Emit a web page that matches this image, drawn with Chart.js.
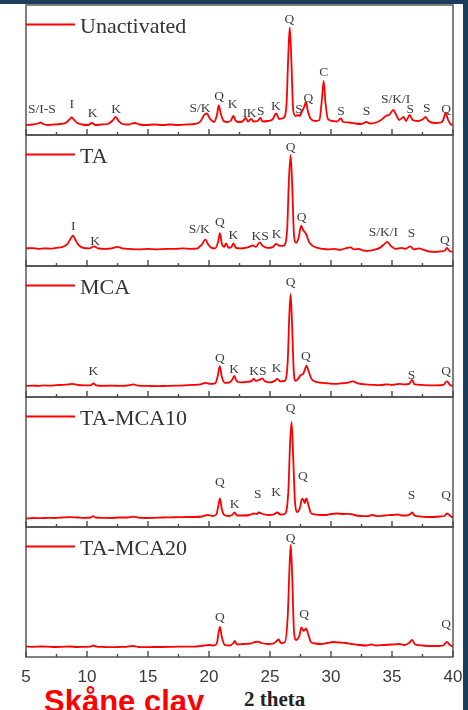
<!DOCTYPE html>
<html>
<head>
<meta charset="utf-8">
<script src="https://cdn.jsdelivr.net/npm/chart.js@4.4.0/dist/chart.umd.min.js"></script>
<style>
  html, body { margin: 0; padding: 0; background: #fff; }
  body { width: 468px; height: 710px; position: relative; overflow: hidden; }
  .band-top { position: absolute; left: 0; top: 0; width: 468px; height: 4px; background: #1d3d5c; }
  .band-right { position: absolute; left: 463px; top: 0; width: 5px; height: 710px; background: #1d3d5c; }
  canvas { position: absolute; left: 0; }
  #xtitle { position: absolute; left: 244px; top: 689px; font: bold 21px "Liberation Serif", serif; line-height: 1; color: #222; white-space: nowrap; }
  #clay { position: absolute; left: 44px; top: 686px; font: bold 31px "Liberation Sans", Arial, sans-serif; line-height: 1; color: #f00; white-space: nowrap; }
</style>
</head>
<body>
<div class="band-top"></div>
<div class="band-right"></div>
<div id="xtitle">2 theta</div>
<div id="clay">Skåne clay</div>
<script>
// 2 theta (deg) vs intensity (a.u.)
const unactivated = [[5,10],[5.5,10.5],[6.0,11.5],[6.2,12.5],[6.4,11],[6.8,10],[7.3,10.5],[7.8,11],[8.3,12.5],[8.6,16],[8.75,17.5],[8.95,15],[9.2,12],[9.6,10.5],[10.1,10],[10.4,12],[10.7,10],[11.2,10.5],[11.7,11],[12.1,14.5],[12.35,18],[12.6,14],[12.9,11],[13.4,10.5],[13.9,12],[14.3,10.5],[14.8,10],[15.5,10.5],[16.2,10],[16.8,10.5],[17.5,10],[18.2,10.5],[18.8,11],[19.3,13.5],[19.6,20],[19.8,21.5],[20.1,16],[20.4,13],[20.65,20],[20.8,29.5],[20.95,22],[21.2,14],[21.5,13],[21.8,14.5],[22.0,19],[22.2,14],[22.5,13],[22.8,14],[23.0,17],[23.2,13.5],[23.45,16],[23.65,13.5],[24.0,14],[24.2,17],[24.4,13.5],[24.8,14],[25.2,15.5],[25.5,21.5],[25.75,16],[26.1,17],[26.35,30],[26.5,80],[26.62,107.5],[26.75,75],[26.9,25],[27.1,19],[27.3,20],[27.45,19],[27.6,23],[27.8,28],[27.95,33],[28.1,24],[28.35,16],[28.7,14],[29.05,15],[29.25,35],[29.4,54],[29.55,32],[29.75,16],[30.1,14],[30.5,13.5],[30.8,16.5],[31.0,13],[31.5,12.5],[32.0,11.5],[32.5,11],[32.9,13],[33.2,11.5],[33.7,12.5],[34.1,15],[34.5,19],[34.8,20.5],[35.1,25],[35.35,20],[35.6,15],[35.95,18],[36.15,14],[36.45,20],[36.7,15],[37.1,14],[37.5,15.5],[37.75,18],[38.0,14],[38.5,12],[39.0,12.5],[39.2,15],[39.4,22],[39.6,15],[39.8,11],[40,10]];
const ta = [[5,17.5],[5.5,17.8],[6,17],[6.5,17.5],[7,17.2],[7.5,18],[8,19],[8.4,22],[8.7,28],[8.85,30],[9.05,26],[9.3,21],[9.7,18],[10.2,17.5],[10.6,19.5],[10.9,17.5],[11.5,17],[12.0,17.5],[12.5,19],[12.9,17.5],[13.5,17],[14.2,16.5],[15,17],[15.7,16.5],[16.5,17],[17.2,17],[17.8,17.5],[18.5,17],[19.1,17.5],[19.2,19],[19.4,21],[19.7,26.5],[19.95,21],[20.2,18],[20.5,17.5],[20.75,24],[20.9,32.5],[21.05,22],[21.25,19],[21.4,22.5],[21.6,18],[21.85,19],[22.0,22.5],[22.2,18],[22.6,17.5],[23.0,18],[23.4,19.5],[23.6,20.5],[23.85,19],[24.15,23.5],[24.4,20],[24.8,18],[25.2,18.5],[25.5,22],[25.8,20],[26.1,20],[26.4,35],[26.55,85],[26.69,110],[26.82,80],[26.97,30],[27.15,23],[27.35,28],[27.55,40],[27.7,36],[27.95,32],[28.2,24],[28.5,20],[28.9,18],[29.3,17],[29.8,16.5],[30.3,17],[30.7,16],[31.2,17.5],[31.6,18.5],[31.9,16.5],[32.3,17],[32.6,15.5],[33.0,15],[33.5,16],[34.0,18],[34.4,22],[34.6,24],[34.9,20],[35.3,17],[35.8,18],[36.1,17],[36.5,19.5],[36.8,16.5],[37.2,17.5],[37.6,16],[38.0,14.5],[38.5,14],[39.0,14.5],[39.35,15.5],[39.5,18],[39.7,15],[40,14]];
const mca = [[5,11],[5.5,11.3],[6,11],[6.5,11.5],[7,11.2],[7.5,11.8],[8,12],[8.5,12.5],[8.8,13],[9.2,12],[9.8,11.5],[10.3,11.5],[10.52,13.5],[10.75,11.5],[11.3,11],[12,11.3],[12.7,11],[13.4,11.5],[13.8,12.5],[14.2,11.3],[15,11],[15.8,10.8],[16.5,11],[17.3,11.2],[18,11.5],[18.7,12],[19.3,12.5],[19.7,14],[20.1,13],[20.5,13.5],[20.7,20],[20.88,30.5],[21.05,20],[21.3,14],[21.7,14.5],[21.9,17],[22.07,21],[22.25,16],[22.6,14.5],[23.1,15],[23.5,16],[23.65,18],[23.85,16],[24.2,17.5],[24.35,18.5],[24.6,15.5],[25.0,14.5],[25.4,16],[25.6,18],[25.85,15.5],[26.2,16],[26.45,35],[26.58,80],[26.69,102],[26.8,75],[26.95,25],[27.1,16],[27.3,18],[27.55,22],[27.7,22.5],[27.85,27],[28.0,31],[28.15,26],[28.4,18],[28.8,15],[29.3,14],[29.8,13.5],[30.3,13],[30.8,13.5],[31.3,14],[31.8,15.5],[32.2,13.5],[32.8,12.5],[33.5,12],[34.0,11.8],[34.6,12.5],[35.0,12],[35.6,13],[36.0,12.5],[36.4,13],[36.65,17],[36.85,12.5],[37.4,12],[38.0,11.5],[38.6,11.5],[39.2,12],[39.5,15.5],[39.75,12],[40,11]];
const taMca10 = [[5,8.5],[5.6,9],[6.2,8.8],[6.8,9.2],[7.4,9],[8,9.5],[8.6,9.8],[9.2,9.5],[9.8,9.2],[10.3,9.5],[10.5,10.8],[10.7,9.5],[11.3,9.2],[12,9],[12.6,9.5],[13.3,9.5],[13.8,10.3],[14.2,9.3],[14.8,9],[15.5,9.2],[16.2,9.5],[16.8,9.6],[17.5,9.8],[18.2,10],[18.8,10],[19.4,10.5],[19.9,12],[20.3,11],[20.6,12.5],[20.75,20],[20.9,28.5],[21.05,18],[21.25,12],[21.6,11],[21.9,12],[22.1,14.5],[22.3,11.5],[22.8,11.5],[23.3,12],[23.7,13.5],[23.9,13],[24.1,14.5],[24.4,13],[24.9,12],[25.3,12.5],[25.6,14.5],[25.85,12.5],[26.2,13],[26.5,35],[26.65,85],[26.77,105],[26.9,70],[27.05,25],[27.25,15],[27.45,19],[27.62,28],[27.75,27],[27.85,24],[27.97,28.5],[28.15,22],[28.35,14],[28.7,12.5],[29.1,12],[29.6,12],[30.0,13],[30.5,13.5],[31.0,13],[31.5,13.2],[31.9,12],[32.4,11],[33.0,10.8],[33.4,12],[33.8,10.8],[34.4,11.5],[35.0,12],[35.5,12.5],[35.8,11.5],[36.2,11.5],[36.5,13],[36.65,14.5],[36.85,11.5],[37.3,10.5],[37.8,10],[38.3,10],[38.9,10.5],[39.3,11],[39.5,13.5],[39.7,12],[40,9]];
const taMca20 = [[5,10.5],[5.6,10.2],[6.2,10.5],[6.8,10.3],[7.4,10],[8,10.2],[8.6,10.5],[9.2,10],[9.8,10.2],[10.3,10.3],[10.5,11.5],[10.8,10.3],[11.4,10],[12,9.8],[12.6,10],[13.2,10.2],[13.8,11],[14.2,10],[14.8,9.8],[15.5,10],[16.2,10],[16.9,10.2],[17.6,10.3],[18.3,10.3],[19,10.5],[19.6,11.5],[20.0,12],[20.4,11.5],[20.65,14],[20.78,24],[20.9,30],[21.05,20],[21.3,12],[21.7,11.5],[22.0,14],[22.1,16],[22.3,12.5],[22.8,13],[23.4,13.5],[23.8,15],[24.0,15.3],[24.3,14],[24.8,13],[25.3,13.5],[25.55,16],[25.7,17.5],[25.9,14],[26.2,14.5],[26.45,40],[26.6,90],[26.7,112],[26.82,80],[26.97,25],[27.15,17],[27.4,21],[27.58,29.5],[27.75,26],[27.95,28.5],[28.15,22],[28.35,15],[28.7,13.5],[29.2,13],[29.7,14],[30.2,15],[30.7,14.5],[31.2,14],[31.7,13],[32.3,12],[32.9,11.5],[33.3,12.5],[33.7,11.5],[34.3,12],[35.0,12.5],[35.6,13],[36.0,12],[36.4,14],[36.65,17],[36.9,12.5],[37.5,11.5],[38.1,11],[38.7,11],[39.2,11.5],[39.5,15],[39.75,12],[40,10.5]];

// phase labels: [text, 2 theta, height]
const unactivatedPeaks = [['S/I-S',6.3,22.3],['I',8.74,26.7],['K',10.46,18.3],['K',12.38,21.7],['S/K',19.26,23.3],['Q',20.82,35],['K',21.94,26.7],['I',22.95,18.3],['K',23.5,18.3],['S',24.24,20],['K',25.49,25],['Q',26.58,111.7],['S',27.38,21.7],['Q',28.14,33.3],['C',29.4,59],['S',30.82,20],['S',32.92,20],['S/K/I',35.3,31.7],['S',36.5,21.7],['S',37.84,23.3],['Q',39.43,21.7]];
const taPeaks = [['I',8.88,36],['K',10.66,21],['S/K',19.2,32.7],['Q',20.9,39.3],['K',21.99,26.7],['KS',24.2,26],['K',25.54,28],['Q',26.69,114.3],['Q',27.59,44.3],['S/K/I',34.29,29.3],['S',36.6,28.7],['Q',39.34,22]];
const mcaPeaks = [['K',10.52,22],['Q',20.9,34.3],['K',22.05,24.3],['KS',24.0,22],['K',25.54,25.3],['Q',26.69,109.7],['Q',27.95,36.3],['S',36.6,17.7],['Q',39.43,22]];
const taMca10Peaks = [['Q',20.9,41],['K',22.1,18.7],['S',24.0,28.7],['K',25.5,31],['Q',26.69,115.3],['Q',27.7,47],['S',36.6,27.7],['Q',39.43,27.7]];
const taMca20Peaks = [['Q',20.9,36.3],['Q',26.69,115.3],['Q',27.8,38.7],['Q',39.43,28.7]];

const sampleNames = ['Unactivated', 'TA', 'MCA', 'TA-MCA10', 'TA-MCA20'];
const sampleData = [unactivated, ta, mca, taMca10, taMca20];
const samplePeaks = [unactivatedPeaks, taPeaks, mcaPeaks, taMca10Peaks, taMca20Peaks];
const xMin = 5, xMax = 40, xStep = 5;

const panelEdges = [5, 135, 266, 397, 527, 657];

const panelDecor = {
  id: 'panelDecor',
  afterDatasetsDraw(chart, args, opts) {
    const { ctx, chartArea: a } = chart;
    const xs = chart.scales.x, ys = chart.scales.y;
    ctx.save();
    // frame
    ctx.strokeStyle = '#4a4a4a';
    ctx.lineWidth = 1.4;
    ctx.strokeRect(a.left, a.top, a.right - a.left, a.bottom - a.top);
    // inward ticks on the bottom edge
    const vals = xs.ticks.map(t => t.value);
    ctx.beginPath();
    vals.forEach((v, i) => {
      const px = xs.getPixelForValue(v);
      ctx.moveTo(px, a.bottom); ctx.lineTo(px, a.bottom - 6);
      if (i < vals.length - 1) {
        const pm = xs.getPixelForValue((v + vals[i + 1]) / 2);
        ctx.moveTo(pm, a.bottom); ctx.lineTo(pm, a.bottom - 3);
      }
    });
    ctx.stroke();
    // legend
    const ds = chart.data.datasets[0];
    ctx.strokeStyle = ds.borderColor;
    ctx.lineWidth = 2;
    ctx.beginPath();
    ctx.moveTo(a.left, a.top + 19.5); ctx.lineTo(a.left + 49, a.top + 19.5);
    ctx.stroke();
    ctx.fillStyle = '#333';
    ctx.font = '22px "Liberation Serif", serif';
    ctx.textAlign = 'left';
    ctx.textBaseline = 'alphabetic';
    ctx.fillText(ds.label, a.left + 54, a.top + 27.5);
    // phase labels
    ctx.font = '13.5px "Liberation Serif", serif';
    ctx.fillStyle = '#3c3c3c';
    ctx.textAlign = 'center';
    opts.peaks.forEach(([t, x, y]) => {
      ctx.fillText(t, xs.getPixelForValue(x), ys.getPixelForValue(y));
    });
    ctx.restore();
  }
};

sampleNames.forEach((name, i) => {
  const last = i === sampleNames.length - 1;
  const top = panelEdges[i] - 4;
  const h = last ? 710 - top : panelEdges[i + 1] - panelEdges[i] + 8;
  const cv = document.createElement('canvas');
  cv.width = 468; cv.height = h;
  cv.style.top = top + 'px';
  cv.style.width = '468px'; cv.style.height = h + 'px';
  document.body.appendChild(cv);
  const innerBottom = panelEdges[i + 1] - top;
  const xScale = {
    type: 'linear', min: xMin, max: xMax,
    display: last,
    grid: { display: false },
    border: { display: false },
    ticks: { stepSize: xStep, padding: 2, color: '#3a3a3a', font: { family: '"Liberation Sans", Arial, sans-serif', size: 17 } }
  };
  if (last) xScale.afterFit = s => { s.height = 30; };
  new Chart(cv, {
    type: 'line',
    data: {
      datasets: [{
        label: name,
        data: sampleData[i].map(([x, y]) => ({ x, y })),
        borderColor: '#ff0000',
        borderWidth: 1.8,
        pointRadius: 0,
        tension: 0.3,
        cubicInterpolationMode: 'monotone'
      }]
    },
    options: {
      responsive: false,
      animation: false,
      devicePixelRatio: 1,
      events: [],
      layout: { padding: { left: 26, right: 15, top: 4, bottom: last ? h - innerBottom - 30 : h - innerBottom } },
      plugins: { legend: { display: false }, tooltip: { enabled: false }, panelDecor: { peaks: samplePeaks[i] } },
      scales: {
        x: xScale,
        y: { display: false, min: 0, max: 130 }
      }
    },
    plugins: [panelDecor]
  });
});
</script>
</body>
</html>
